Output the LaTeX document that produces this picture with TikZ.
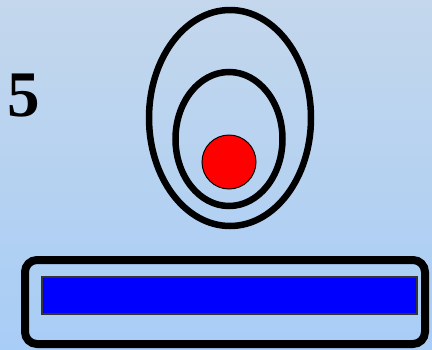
\documentclass[tikz,border=0pt]{standalone}
\usepackage{fontspec}
\setmainfont{Liberation Serif}
\definecolor{bgtop}{RGB}{196,215,236}
\definecolor{bgbot}{RGB}{168,205,246}
\definecolor{blueBar}{RGB}{0,0,255}
\definecolor{redDot}{RGB}{255,0,0}
\begin{document}
\begin{tikzpicture}[x=1pt,y=-1pt,
  ring/.style={draw=black,line width=6.5pt},
  frame/.style={draw=black,line width=8pt,rounded corners=12pt},
  bar/.style={draw=black!80,line width=1.5pt,fill=blueBar},
  dot/.style={draw=black,line width=1pt,fill=redDot}]
\shade[top color=bgtop,bottom color=bgbot] (0,0) rectangle (432,349);
\useasboundingbox (0,0) rectangle (432,349);
\node[anchor=base,inner sep=0pt,font=\fontsize{65}{78}\selectfont\bfseries] (num) at (23.3,116.7) {5};
\draw[ring] (230,118) ellipse [x radius=81, y radius=108];
\draw[ring] (229,139) ellipse [x radius=53.5, y radius=67];
\node[dot,circle,minimum size=54pt,inner sep=0pt] (red) at (229,162) {};
\draw[frame] (25,260) rectangle (425,344);
\draw[bar] (42,277) rectangle (417,314);
\end{tikzpicture}
\end{document}
